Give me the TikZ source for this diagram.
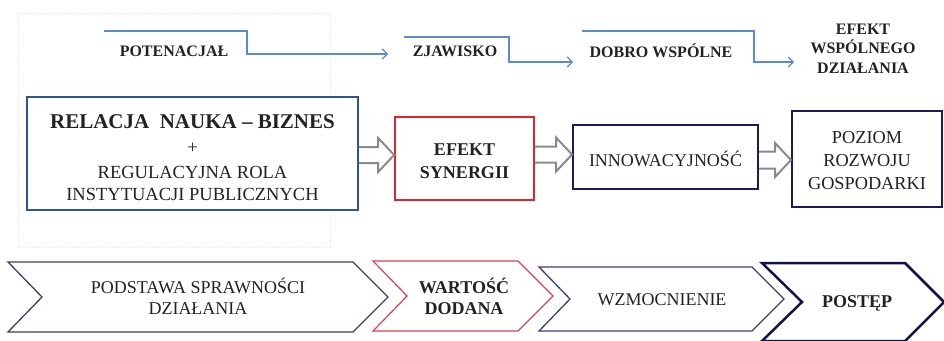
\documentclass[tikz,border=0pt]{standalone}
\usepackage{fontspec}
\setmainfont{Liberation Serif}
\usetikzlibrary{arrows.meta,calc}

\definecolor{stepblue}{HTML}{5A8AD0}
\definecolor{relblue}{HTML}{2D5597}
\definecolor{synred}{HTML}{E0232F}
\definecolor{navy}{HTML}{1C1C5A}
\definecolor{slate}{HTML}{3E3E6E}
\definecolor{chevred}{HTML}{D8424C}
\definecolor{deepnavy}{HTML}{12124A}
\definecolor{txt}{HTML}{222222}
\definecolor{arrowgray}{HTML}{8A8A8A}

\tikzset{
  toplabel/.style={font=\fontsize{16}{19.5}\selectfont\bfseries, text=txt, align=center, inner sep=0pt},
  stepline/.style={draw=stepblue, line width=1.2pt, -{Straight Barb[length=5pt,width=10pt]}},
  box/.style={draw, line width=2pt, fill=white, inner sep=0pt},
  boxtext/.style={align=center, text=txt, inner sep=0pt, font=\fontsize{18.5}{23.5}\selectfont},
  harrow/.style={draw=arrowgray, line width=2pt, line join=miter},
  chevtext/.style={font=\fontsize{18}{21}\selectfont, text=txt, align=center, inner sep=0pt},
  frame/.style={draw=black!10, line width=0.8pt, dash pattern=on 1pt off 1.5pt}
}

% hollow block arrow between two boxes: source, target, y, shaft half, head half, head length
\newcommand\hollowarrow[6]{%
  \draw[harrow] ($(#1.east|-0,#3)+(0,-#4)$) -- ($(#2.west|-0,#3)+(-#6,-#4)$)
    -- ($(#2.west|-0,#3)+(-#6,-#5)$) -- (#2.west|-0,#3)
    -- ($(#2.west|-0,#3)+(-#6,#5)$) -- ($(#2.west|-0,#3)+(-#6,#4)$)
    -- ($(#1.east|-0,#3)+(0,#4)$);}

\begin{document}
\begin{tikzpicture}[x=1pt,y=-1pt]
\useasboundingbox (0,0) rectangle (944,340);

% faint frame around the first block
\draw[frame] (18,13) rectangle (330,247);

% stage labels along the top
\node[toplabel] (potencjal) at (174,51) {POTENACJAŁ};
\node[toplabel] (zjawisko) at (455,51) {ZJAWISKO};
\node[toplabel] (dobro) at (661,51) {DOBRO WSPÓLNE};
\node[toplabel] (efekt) at (863,48.5) {EFEKT\\WSPÓLNEGO\\DZIAŁANIA};

\coordinate (s1) at (104,31);
\coordinate (e1) at (388,54);
\coordinate (s2) at (404,37);
\coordinate (e2) at (573,62);
\coordinate (s3) at (582,31);
\coordinate (e3) at (794,62);
\draw[stepline] (s1) -| (247,54) -- (e1);
\draw[stepline] (s2) -| (509,62) -- (e2);
\draw[stepline] (s3) -| (754,62) -- (e3);

% main chain of boxes
\node[box, draw=relblue, minimum width=331pt, minimum height=113pt] (relacja) at (192.5,153.5) {};
\node[box, draw=synred, line width=1.7pt, minimum width=139pt, minimum height=83pt] (synergia) at (464.5,158.5) {};
\node[box, draw=navy, minimum width=185pt, minimum height=64pt] (innow) at (665.5,157) {};
\node[box, draw=navy, minimum width=150pt, minimum height=96pt] (poziom) at (867,159) {};

\node[boxtext] (relacjatxt) at (192.5,157.5)
  {{\fontsize{21}{23.5}\selectfont\bfseries RELACJA\ \ NAUKA – BIZNES}\\[1.5pt]
   +\\[2pt]REGULACYJNA ROLA\\[-1.5pt]INSTYTUACJI PUBLICZNYCH};
\node[boxtext, font=\fontsize{18}{23}\selectfont\bfseries] (synergiatxt) at (464.5,161.5) {EFEKT\\SYNERGII};
\node[boxtext, font=\fontsize{18}{23}\selectfont] (innowtxt) at (665.5,159) {INNOWACYJNOŚĆ};
\node[boxtext, font=\fontsize{18.3}{23}\selectfont] (poziomtxt) at (867,161) {POZIOM\\ROZWOJU\\GOSPODARKI};

\hollowarrow{relacja}{synergia}{155}{8}{17}{16}
\hollowarrow{synergia}{innow}{154.5}{8}{17}{16}
\hollowarrow{innow}{poziom}{160}{8.5}{17}{16}

% chevron band along the bottom
\draw[draw=slate, line width=1.3pt, line join=miter]
  (8,262) -- (353,262) -- (388,297) -- (353,332) -- (8,332) -- (42,297) -- cycle;
\draw[draw=chevred, line width=1.2pt, line join=miter]
  (373,261) -- (518,261) -- (553,296) -- (518,331) -- (373,331) -- (407,296) -- cycle;
\draw[draw=slate, line width=1.3pt, line join=miter]
  (539,267) -- (752,267) -- (784,299) -- (752,331) -- (539,331) -- (570,299) -- cycle;
\draw[draw=deepnavy, line width=2.5pt, line join=miter]
  (762,263) -- (905,263) -- (944,302) -- (905,341) -- (762,341) -- (802,302) -- cycle;

\node[chevtext] (podstawa) at (198,296) {PODSTAWA SPRAWNOŚCI\\DZIAŁANIA};
\node[chevtext, font=\fontsize{18}{21}\selectfont\bfseries] (wartosc) at (464,296) {WARTOŚĆ\\DODANA};
\node[chevtext] (wzmocnienie) at (662,300) {WZMOCNIENIE};
\node[chevtext, font=\fontsize{18}{21}\selectfont\bfseries] (postep) at (857,303) {POSTĘP};
\end{tikzpicture}
\end{document}
